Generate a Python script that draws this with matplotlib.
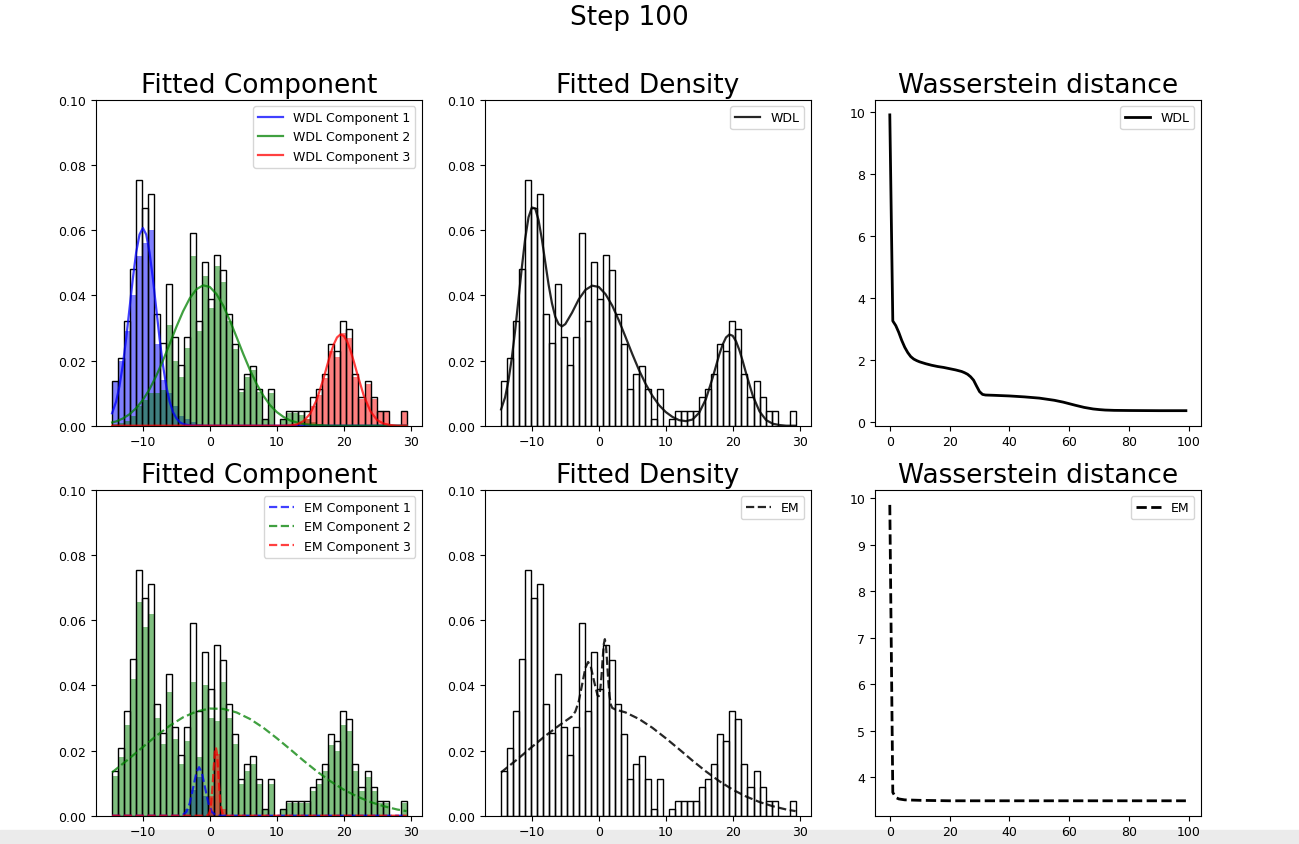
import numpy as np
import matplotlib
matplotlib.use("Agg")
import matplotlib.pyplot as plt
from matplotlib.patches import Rectangle

# ---- histogram of the sample (density per bin) ----
bin_start = -14.65
bin_width = 0.899
hist_total = [0.0138, 0.0207, 0.0320, 0.0480, 0.0754, 0.0667, 0.0710, 0.0344, 0.0254, 0.0434,
              0.0272, 0.0185, 0.0272, 0.0592, 0.0321, 0.0503, 0.0390, 0.0525, 0.0477, 0.0342,
              0.0251, 0.0113, 0.0159, 0.0182, 0.0113, 0.0021, 0.0113, 0.0, 0.0021, 0.0044,
              0.0044, 0.0044, 0.0044, 0.0089, 0.0113, 0.0159, 0.0251, 0.0228, 0.0320, 0.0298,
              0.0159, 0.0089, 0.0138, 0.0089, 0.0044, 0.0044, 0.0, 0.0, 0.0044]

# weighted histograms per component (WDL)
wdl_fill_1 = [0.0134, 0.0200, 0.0290, 0.0400, 0.0520, 0.0560, 0.0600, 0.0250, 0.0140, 0.0100,
              0.0060, 0.0030, 0.0020, 0.0010, 0.0004] + [0.0] * 34
wdl_fill_2 = [0.0004, 0.0007, 0.0015, 0.0030, 0.0060, 0.0080, 0.0100, 0.0100, 0.0110, 0.0310,
              0.0200, 0.0150, 0.0240, 0.0520, 0.0290, 0.0460, 0.0360, 0.0490, 0.0440, 0.0320,
              0.0235, 0.0105, 0.0150, 0.0170, 0.0105, 0.0020, 0.0100, 0.0, 0.0018, 0.0040,
              0.0038, 0.0034, 0.0022, 0.0012, 0.0006, 0.0003] + [0.0] * 13
wdl_fill_3 = [0.0] * 30 + [0.0004, 0.0008, 0.0020, 0.0060, 0.0095, 0.0145, 0.0230, 0.0210,
                           0.0285, 0.0270, 0.0150, 0.0082, 0.0128, 0.0083, 0.0041, 0.0041,
                           0.0, 0.0, 0.0041]

# weighted histograms per component (EM)
em_fill_1 = [0.0] * 12 + [0.0020, 0.0080, 0.0120, 0.0060, 0.0010] + [0.0] * 32
em_fill_2 = [0.0122, 0.0180, 0.0280, 0.0420, 0.0655, 0.0580, 0.0620, 0.0300, 0.0220, 0.0380,
             0.0237, 0.0160, 0.0230, 0.0410, 0.0180, 0.0400, 0.0300, 0.0290, 0.0410, 0.0300,
             0.0220, 0.0098, 0.0138, 0.0158, 0.0098, 0.0018, 0.0098, 0.0, 0.0018, 0.0038,
             0.0038, 0.0038, 0.0038, 0.0077, 0.0098, 0.0138, 0.0218, 0.0198, 0.0278, 0.0260,
             0.0138, 0.0077, 0.0120, 0.0077, 0.0038, 0.0038, 0.0, 0.0, 0.0038]
em_fill_3 = [0.0] * 16 + [0.0060, 0.0190, 0.0020] + [0.0] * 30

# ---- fitted curves ----
wdl_c1_x = [-14.6, -14, -13.5, -13, -12.5, -12, -11.5, -11, -10.5, -10, -9.5, -9, -8.5, -8,
            -7.5, -7, -6.5, -6, -5.5, -5, -4.5, -4, -3, -2, 29.4]
wdl_c1_y = [0.0038, 0.0074, 0.0121, 0.0186, 0.0267, 0.0359, 0.0451, 0.0532, 0.0587, 0.0607,
            0.0587, 0.0532, 0.0451, 0.0359, 0.0267, 0.0186, 0.0121, 0.0074, 0.0042, 0.0023,
            0.0011, 0.0005, 0.0001, 0.0, 0.0]

wdl_c2_x = [-14.6, -14, -13, -12, -11, -10, -9, -8, -7, -6, -5, -4, -3, -2, -1, 0, 1, 2, 3, 4,
            5, 6, 7, 8, 9, 10, 11, 12, 13, 14, 15, 16, 17, 18, 20, 29.4]
wdl_c2_y = [0.0010, 0.0013, 0.0022, 0.0035, 0.0054, 0.0079, 0.0112, 0.0153, 0.0200, 0.0251,
            0.0303, 0.0351, 0.0391, 0.0419, 0.0431, 0.0426, 0.0404, 0.0369, 0.0323, 0.0272,
            0.0220, 0.0171, 0.0128, 0.0092, 0.0063, 0.0042, 0.0027, 0.0016, 0.0010, 0.0005,
            0.0003, 0.0002, 0.0001, 0.0, 0.0, 0.0]

wdl_c3_x = [-14.6, 10, 11, 12, 13, 14, 15, 16, 17, 17.5, 18, 18.5, 19, 19.5, 20, 20.5, 21, 21.5,
            22, 23, 24, 25, 26, 27, 28, 29, 29.4]
wdl_c3_y = [0.0, 0.0, 0.0, 0.0001, 0.0004, 0.0014, 0.0037, 0.0081, 0.0146, 0.0183, 0.0219,
            0.0249, 0.0271, 0.0280, 0.0276, 0.0259, 0.0232, 0.0198, 0.0161, 0.0092, 0.0044,
            0.0017, 0.0006, 0.0002, 0.0, 0.0, 0.0]

wdl_dens_x = [-14.6, -14, -13.5, -13, -12.5, -12, -11.5, -11, -10.5, -10, -9.5, -9, -8.5, -8,
              -7.5, -7, -6.5, -6, -5.5, -5, -4, -3, -2, -1, 0, 1, 2, 3, 4, 5, 6, 7, 8, 9, 10,
              11, 12, 13, 14, 15, 16, 17, 17.5, 18, 18.5, 19, 19.5, 20, 20.5, 21, 21.5, 22,
              23, 24, 25, 26, 27, 28, 29, 29.4]
wdl_dens_y = [0.0050, 0.0087, 0.0138, 0.0207, 0.0292, 0.0388, 0.0485, 0.0574, 0.0640, 0.0670,
              0.0667, 0.0631, 0.0572, 0.0502, 0.0433, 0.0376, 0.0334, 0.0312, 0.0305, 0.0312,
              0.0347, 0.0388, 0.0417, 0.0430, 0.0426, 0.0404, 0.0369, 0.0323, 0.0272, 0.0220,
              0.0171, 0.0128, 0.0092, 0.0063, 0.0042, 0.0027, 0.0017, 0.0014, 0.0019, 0.0040,
              0.0082, 0.0147, 0.0183, 0.0219, 0.0249, 0.0271, 0.0280, 0.0276, 0.0259, 0.0232,
              0.0198, 0.0161, 0.0092, 0.0044, 0.0017, 0.0006, 0.0002, 0.0, 0.0, 0.0]

em_c1_x = [-14.6, -5, -4.5, -4, -3.5, -3, -2.5, -2, -1.6, -1.2, -0.7, -0.2, 0.3, 0.8, 1.5, 29.4]
em_c1_y = [0.0, 0.0, 0.0, 0.0003, 0.0012, 0.0038, 0.0085, 0.0133, 0.0149, 0.0133, 0.0085,
           0.0038, 0.0012, 0.0003, 0.0, 0.0]

em_c2_x = [-14.6, -12, -10, -8, -6, -4, -2, 0, 2, 4, 6, 8, 10, 12, 14, 16, 18, 20, 22, 24,
           26, 28, 29.4]
em_c2_y = [0.0133, 0.0176, 0.0211, 0.0245, 0.0276, 0.0302, 0.0320, 0.0329, 0.0328, 0.0317,
           0.0297, 0.0270, 0.0238, 0.0204, 0.0169, 0.0136, 0.0106, 0.0080, 0.0059, 0.0042,
           0.0029, 0.0019, 0.0014]

em_c3_x = [-14.6, -0.5, -0.2, 0, 0.2, 0.4, 0.6, 0.75, 0.9, 1.05, 1.2, 1.4, 1.6, 1.8, 2.0, 2.3,
           29.4]
em_c3_y = [0.0, 0.0, 0.0003, 0.0013, 0.0039, 0.0088, 0.0154, 0.0194, 0.0210, 0.0194, 0.0154,
           0.0088, 0.0039, 0.0013, 0.0003, 0.0, 0.0]

em_dens_x = [-14.6, -12, -10, -8, -6, -4, -3.5, -3, -2.5, -2, -1.6, -1.2, -0.7, -0.2, 0, 0.2,
             0.4, 0.6, 0.75, 0.9, 1.05, 1.2, 1.4, 1.6, 1.8, 2.0, 2.5, 4, 6, 8, 10, 12, 14, 16,
             18, 20, 22, 24, 26, 28, 29.4]
em_dens_y = [0.0133, 0.0176, 0.0211, 0.0245, 0.0276, 0.0305, 0.0320, 0.0351, 0.0402, 0.0454,
             0.0472, 0.0458, 0.0412, 0.0370, 0.0367, 0.0384, 0.0428, 0.0489, 0.0527, 0.0542,
             0.0526, 0.0484, 0.0418, 0.0368, 0.0341, 0.0331, 0.0326, 0.0317, 0.0297, 0.0270,
             0.0238, 0.0204, 0.0169, 0.0136, 0.0106, 0.0080, 0.0059, 0.0042, 0.0029, 0.0019,
             0.0014]

# ---- Wasserstein distance per iteration ----
wdl_iter = [0, 1, 2, 3, 4, 5, 6, 7, 8, 9, 10, 12, 14, 16, 18, 20, 22, 24, 25, 26, 27, 28, 29,
            30, 31, 32, 35, 40, 45, 50, 55, 58, 60, 62, 65, 68, 70, 72, 75, 80, 90, 99]
wdl_dist = [9.9, 3.25, 3.1, 2.88, 2.62, 2.4, 2.23, 2.1, 2.02, 1.97, 1.93, 1.87, 1.82, 1.78,
            1.75, 1.71, 1.67, 1.62, 1.58, 1.53, 1.45, 1.34, 1.15, 0.97, 0.88, 0.86, 0.85, 0.83,
            0.8, 0.76, 0.69, 0.63, 0.58, 0.53, 0.46, 0.41, 0.39, 0.375, 0.365, 0.36, 0.355,
            0.355]
em_iter = [0, 1, 2, 3, 5, 10, 20, 50, 99]
em_dist = [9.85, 3.68, 3.57, 3.54, 3.52, 3.51, 3.5, 3.5, 3.5]

comp_colors = ['blue', 'green', 'red']

fig = plt.figure(figsize=(12.99, 8.45), dpi=100)
W, H = 1299, 845


def add_ax(x0, y_top):
    return fig.add_axes([x0 / W, 1 - (y_top + 325.7) / H, 325.7 / W, 325.7 / H])


ax_tl = add_ax(96, 101)
ax_tm = add_ax(485, 101)
ax_tr = add_ax(875, 101)
ax_bl = add_ax(96, 491)
ax_bm = add_ax(485, 491)
ax_br = add_ax(875, 491)

lefts = bin_start + bin_width * np.arange(len(hist_total))


def outline(ax):
    ax.bar(lefts, hist_total, width=bin_width, align='edge', fill=False,
           edgecolor='black', linewidth=1.0)


def hist_axes(ax, title):
    ax.set_xlim(-17.0, 31.65)
    ax.set_ylim(0, 0.1)
    ax.set_title(title, fontsize=19)
    ax.tick_params(labelsize=9)


# top-left: WDL components
for fill, c in zip([wdl_fill_1, wdl_fill_2, wdl_fill_3], comp_colors):
    ax_tl.bar(lefts, fill, width=bin_width, align='edge', color=c, alpha=0.5, linewidth=0)
outline(ax_tl)
for k, (xs, ys) in enumerate([(wdl_c1_x, wdl_c1_y), (wdl_c2_x, wdl_c2_y), (wdl_c3_x, wdl_c3_y)]):
    ax_tl.plot(xs, ys, color=comp_colors[k], lw=1.6, alpha=0.75, label=f'WDL Component {k + 1}')
hist_axes(ax_tl, 'Fitted Component')
ax_tl.legend(loc='upper right', fontsize=9)

# top-middle: WDL density
outline(ax_tm)
ax_tm.plot(wdl_dens_x, wdl_dens_y, color='black', lw=1.6, alpha=0.85, label='WDL')
hist_axes(ax_tm, 'Fitted Density')
ax_tm.legend(loc='upper right', fontsize=9)

# bottom-left: EM components
for fill, c in zip([em_fill_1, em_fill_2, em_fill_3], comp_colors):
    ax_bl.bar(lefts, fill, width=bin_width, align='edge', color=c, alpha=0.5, linewidth=0)
outline(ax_bl)
for k, (xs, ys) in enumerate([(em_c1_x, em_c1_y), (em_c2_x, em_c2_y), (em_c3_x, em_c3_y)]):
    ax_bl.plot(xs, ys, color=comp_colors[k], lw=1.6, ls='--', alpha=0.75,
               label=f'EM Component {k + 1}')
hist_axes(ax_bl, 'Fitted Component')
ax_bl.legend(loc='upper right', fontsize=9)

# bottom-middle: EM density
outline(ax_bm)
ax_bm.plot(em_dens_x, em_dens_y, color='black', lw=1.6, ls='--', alpha=0.85, label='EM')
hist_axes(ax_bm, 'Fitted Density')
ax_bm.legend(loc='upper right', fontsize=9)

# right column: distance curves
ax_tr.plot(wdl_iter, wdl_dist, color='black', lw=2, label='WDL')
ax_tr.set_xlim(-4.95, 103.95)
ax_tr.set_ylim(-0.13, 10.38)
ax_tr.set_title('Wasserstein distance', fontsize=19)
ax_tr.tick_params(labelsize=9)
ax_tr.legend(loc='upper right', fontsize=9)

ax_br.plot(em_iter, em_dist, color='black', lw=2, ls='--', label='EM')
ax_br.set_xlim(-4.95, 103.95)
ax_br.set_ylim(3.18, 10.17)
ax_br.set_title('Wasserstein distance', fontsize=19)
ax_br.tick_params(labelsize=9)
ax_br.legend(loc='upper right', fontsize=9)

fig.text(629 / W, 1 - 18 / H, 'Step 100', ha='center', va='center', fontsize=19)

# notebook scroll strip at the bottom of the screenshot
fig.patches.append(Rectangle((0, 0), 1, 14 / H, transform=fig.transFigure,
                             color='#ebebeb', zorder=-1))

fig.savefig('out.png', dpi=100)
